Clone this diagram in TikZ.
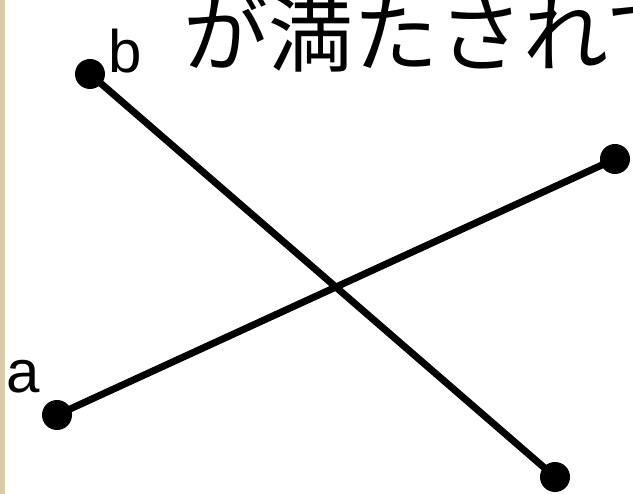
\documentclass[tikz,border=0pt]{standalone}
\usepackage{fontspec}
\setmainfont{Liberation Sans}
\newfontfamily\cjk{Noto Sans CJK JP}
\definecolor{strip}{RGB}{216,203,168}
\tikzset{
  seg/.style={line width=7pt},
  pt/.style={circle,fill=black,inner sep=0pt,minimum size=30pt},
  lbl/.style={font=\fontsize{60}{60}\selectfont,inner sep=0pt,anchor=base west},
}
\begin{document}
\begin{tikzpicture}[x=1pt,y=-1pt]
\useasboundingbox (0,0) rectangle (633,494);
\clip (0,0) rectangle (633,494);
\fill[white] (0,0) rectangle (633,494);
\fill[strip] (0,0) rectangle (5,494);
\node[anchor=base west,inner sep=0pt,font=\cjk\fontsize{85}{85}\selectfont] (title) at (183,66) {が満たされて};
\node[pt] (b) at (90,74) {};
\node[pt] (c) at (555,477) {};
\node[pt] (a) at (57,415) {};
\node[pt] (d) at (615,159) {};
\draw[seg] (b.center) -- (c.center);
\draw[seg] (a.center) -- (d.center);
\node[lbl] (lb) at (108,73) {b};
\node[lbl] (la) at (6,393) {a};
\end{tikzpicture}
\end{document}
